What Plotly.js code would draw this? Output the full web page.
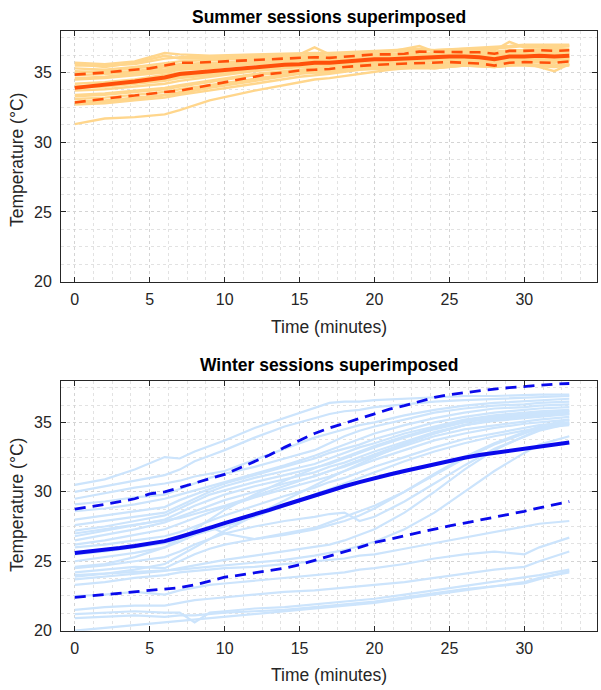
<!DOCTYPE html>
<html>
<head>
<meta charset="utf-8">
<script src="https://cdn.plot.ly/plotly-3.0.1.min.js"></script>
<style>html,body{margin:0;padding:0;background:#fff}#chart{width:601px;height:690px}</style>
</head>
<body>
<div id="chart"></div>
<script>
// ---------- DATA ----------
const minutes = [0,1,2,3,4,5,6,7,8,9,10,11,12,13,14,15,16,17,18,19,20,21,22,23,24,25,26,27,28,29,30,31,32,33];

// Summer sessions (sampled times)
const summerTimes = [0,2,4,6,7,9,12,15,16,17,19,21,23,24,26,28,29,30,32,33];
const summer1  = [35.7,35.6,35.8,36.4,36.3,36.2,36.3,36.4,36.4,36.4,36.5,36.6,36.7,36.6,36.7,36.8,36.9,37.0,37.0,37.0];
const summer2  = [35.5,35.5,35.6,36.0,36.1,36.1,36.2,36.3,36.8,36.3,36.4,36.5,36.9,36.5,36.6,36.6,37.2,36.8,36.8,36.9];
const summer3  = [35.3,35.2,35.4,35.7,35.8,35.9,36.0,36.1,36.2,36.1,36.3,36.3,36.4,36.4,36.5,36.5,36.6,36.6,36.7,36.7];
const summer4  = [35.0,35.1,35.3,35.5,35.6,35.7,35.8,35.9,36.0,35.9,36.1,36.2,36.3,36.3,36.4,36.3,36.4,36.5,36.5,36.5];
const summer5  = [34.8,34.9,35.0,35.2,35.4,35.5,35.7,35.8,35.9,35.8,36.0,36.1,36.2,36.2,36.3,36.2,36.3,36.4,36.4,36.4];
const summer6  = [34.5,34.6,34.8,35.0,35.2,35.3,35.6,35.7,35.8,35.6,35.9,36.0,36.1,36.1,36.2,36.1,36.2,36.3,36.3,36.3];
const summer7  = [34.2,34.3,34.5,34.8,35.0,35.1,35.4,35.6,35.6,35.5,35.8,35.9,36.0,36.0,36.1,36.0,36.1,36.2,36.1,36.2];
const summer8  = [34.0,34.1,34.3,34.5,34.7,34.9,35.3,35.5,35.5,35.0,35.7,35.8,35.9,35.9,36.0,35.9,36.0,36.1,36.0,36.1];
const summer9  = [33.7,33.8,34.0,34.2,34.4,34.7,35.1,35.4,35.4,35.3,35.6,35.7,35.8,35.8,35.9,35.8,35.9,36.0,35.9,36.0];
const summer10 = [33.4,33.5,33.7,33.9,34.1,34.4,34.9,35.2,35.3,35.3,35.5,35.6,35.7,35.6,35.8,35.7,35.8,35.9,35.8,35.9];
const summer11 = [33.1,33.2,33.4,33.6,33.8,34.1,34.6,35.0,35.1,35.1,35.4,35.5,35.6,35.5,35.7,35.6,35.7,35.8,35.7,35.8];
const summer12 = [32.8,32.9,33.1,33.4,33.5,33.9,34.4,34.9,35.0,35.0,35.3,35.4,35.5,35.4,35.6,35.5,35.6,35.7,35.1,35.6];
const summer13 = [32.7,32.8,33.0,33.2,33.4,33.7,34.2,34.7,34.8,34.9,35.2,35.3,35.3,35.3,35.5,35.4,35.5,35.5,35.4,35.5];
const summer14 = [31.3,31.7,31.8,32.0,32.3,33.0,33.7,34.3,34.5,34.6,34.9,35.2,35.4,35.3,35.5,35.4,35.5,35.6,35.5,35.6];
const summer15 = [35.6,35.4,35.7,36.2,36.0,36.0,36.1,36.2,36.3,36.2,36.4,36.5,36.6,36.6,36.7,36.7,36.8,36.9,36.9,36.9];
const summer16 = [35.1,35.0,35.1,35.4,35.5,35.6,35.9,36.0,36.1,36.0,36.2,36.3,36.4,36.4,36.5,36.4,36.5,36.6,36.6,36.6];
const summer17 = [34.6,34.7,34.9,35.1,35.3,35.4,35.7,35.9,35.9,35.7,36.0,36.1,36.2,36.2,36.3,36.2,36.3,36.4,36.3,36.4];
const summer18 = [33.9,34.0,34.2,34.4,34.6,34.8,35.2,35.5,35.6,35.4,35.7,35.8,35.9,35.9,36.0,35.9,36.0,36.1,36.0,36.1];
const summer19 = [33.3,33.4,33.6,33.8,34.0,34.3,34.8,35.1,35.2,35.2,35.5,35.6,35.7,35.6,35.8,35.7,35.8,35.9,35.8,35.9];
const summer20 = [32.9,33.0,33.2,33.4,33.6,34.0,34.5,35.0,35.0,35.0,35.3,35.4,35.5,35.5,35.6,35.5,35.6,35.6,35.5,35.6];
const summerSessions = [summer1,summer2,summer3,summer4,summer5,summer6,summer7,summer8,summer9,summer10,summer11,summer12,summer13,summer14,summer15,summer16,summer17,summer18,summer19,summer20];

const summerMean  = [33.9,34.0,34.1,34.25,34.35,34.5,34.65,34.9,35.0,35.1,35.2,35.3,35.4,35.5,35.55,35.6,35.7,35.7,35.8,35.9,35.95,35.95,36.0,36.1,36.1,36.15,36.15,36.1,35.95,36.15,36.15,36.2,36.15,36.2];
const summerUpper = [34.85,34.9,35.0,35.1,35.2,35.3,35.5,35.7,35.7,35.75,35.8,35.85,35.9,35.95,36.0,36.0,36.1,36.05,36.15,36.25,36.3,36.3,36.35,36.5,36.5,36.5,36.5,36.45,36.35,36.55,36.55,36.6,36.55,36.6];
const summerLower = [32.85,33.0,33.1,33.25,33.35,33.5,33.6,33.7,33.9,34.1,34.3,34.5,34.7,34.9,35.0,35.15,35.2,35.25,35.4,35.5,35.55,35.6,35.65,35.7,35.7,35.75,35.7,35.65,35.5,35.7,35.75,35.75,35.7,35.8];

// Winter sessions (sampled times)
const winterTimes = [0,2,4,6,7,8,9,10,12,14,16,17,18,19,20,22,24,26,28,30,31,33];
const winter1  = [30.5,30.9,31.6,32.5,32.4,32.9,33.3,33.7,34.6,35.3,36.0,36.4,36.5,36.5,36.6,36.7,36.8,36.9,36.9,37.0,37.0,37.0];
const winter2  = [30.0,30.4,30.8,31.2,31.6,32.2,32.6,33.0,33.9,34.7,35.3,35.6,35.8,35.9,36.1,36.3,36.5,36.6,36.7,36.8,36.8,36.9];
const winter3  = [29.5,29.9,30.3,30.6,30.8,31.1,31.3,31.5,32.3,33.1,33.9,34.2,34.5,34.8,35.0,35.5,35.9,36.2,36.4,36.5,36.6,36.7];
const winter4  = [29.1,29.3,29.6,29.8,30.2,30.6,31.0,31.3,31.8,32.4,33.0,33.5,34.0,34.4,34.7,35.2,35.7,36.0,36.2,36.3,36.4,36.5];
const winter5  = [28.6,28.8,29.1,29.5,29.8,30.1,30.4,30.7,31.3,31.9,32.6,33.0,33.4,33.8,34.2,34.8,35.3,35.7,36.0,36.1,36.2,36.3];
const winter6  = [28.0,28.3,28.6,28.9,29.4,29.8,30.2,30.6,31.2,31.8,32.4,32.8,33.1,33.4,33.8,34.4,35.0,35.4,35.7,35.9,36.0,36.1];
const winter7  = [27.6,27.9,28.2,28.5,29.0,29.5,30.0,30.4,31.0,31.5,32.0,32.4,32.8,33.2,33.5,34.2,34.7,35.2,35.5,35.7,35.8,35.9];
const winter8  = [27.2,27.5,27.9,28.3,28.8,29.3,29.8,30.1,30.7,31.2,31.7,32.0,32.4,32.8,33.2,33.9,34.5,35.0,35.3,35.5,35.6,35.7];
const winter9  = [26.8,27.2,27.6,28.0,28.5,29.0,29.4,29.8,30.4,30.9,31.4,31.8,32.1,32.5,32.9,33.6,34.3,34.8,35.1,35.3,35.4,35.6];
const winter10 = [26.5,26.9,27.3,27.8,28.2,28.6,29.0,29.4,30.0,30.6,31.1,31.5,31.8,32.2,32.6,33.3,34.0,34.5,34.8,35.1,35.2,35.4];
const winter11 = [26.2,26.5,26.9,27.3,27.7,28.1,28.5,28.9,29.6,30.2,30.8,31.1,31.5,31.9,32.3,33.0,33.7,34.2,34.6,34.9,35.0,35.2];
const winter12 = [26.0,26.2,26.5,26.8,27.1,27.5,27.9,28.3,29.0,29.7,30.3,30.7,31.0,31.4,31.8,32.5,33.2,33.8,34.2,34.6,34.8,35.0];
const winter13 = [25.5,25.7,26.0,26.3,26.6,26.9,27.2,27.5,28.2,29.0,29.8,30.2,30.6,31.0,31.4,32.2,32.9,33.5,34.0,34.4,34.6,34.8];
const winter14 = [25.0,25.3,25.6,26.0,26.4,26.9,27.5,27.0,26.6,26.9,27.3,27.6,27.9,28.3,28.8,30.0,31.3,32.5,33.5,34.3,34.7,35.2];
const winter15 = [24.5,24.7,25.0,25.3,25.7,26.2,26.6,27.0,27.5,27.9,28.2,28.4,28.5,27.9,28.2,29.3,30.6,31.9,33.1,34.0,34.4,34.9];
const winter16 = [24.2,24.4,24.6,24.5,25.0,25.5,25.9,26.2,26.6,27.0,27.4,27.8,28.2,28.6,29.0,30.0,31.2,32.4,33.4,34.2,34.6,35.0];
const winter17 = [23.7,23.9,24.1,24.3,24.5,24.7,24.9,25.1,25.4,25.7,26.0,26.2,26.5,26.9,27.3,28.5,30.0,31.6,33.0,34.0,34.5,34.9];
const winter18 = [24.0,24.1,24.2,24.3,24.4,24.5,24.6,24.7,24.9,25.1,25.4,25.6,25.8,26.1,26.4,27.3,28.5,30.0,31.5,32.8,33.4,34.0];
const winter19 = [23.3,23.5,23.8,24.0,24.2,24.3,24.4,24.5,24.6,24.8,25.0,25.1,25.2,25.4,25.5,25.9,26.3,26.7,27.1,27.5,27.7,27.9];
const winter20 = [22.5,22.6,22.8,22.6,22.9,23.1,23.3,23.4,23.6,23.8,24.0,24.1,24.2,24.4,24.5,24.8,25.2,25.5,25.7,25.5,26.0,26.7];
const winter21 = [21.5,21.7,21.8,21.8,22.0,22.2,22.3,22.4,22.6,22.8,22.9,23.0,23.1,23.2,23.3,23.5,23.8,24.1,24.4,24.6,25.0,25.7];
const winter22 = [21.2,21.3,21.4,21.3,21.3,20.6,21.3,21.4,21.6,21.7,21.9,22.0,22.1,22.2,22.3,22.6,22.9,23.2,23.5,23.8,24.0,24.4];
const winter23 = [20.9,21.0,21.1,21.0,21.1,21.1,21.2,21.3,21.4,21.5,21.7,21.8,21.9,22.0,22.1,22.4,22.7,23.0,23.2,23.4,23.7,24.3];
const winter24 = [20.0,20.2,20.4,20.6,20.7,20.8,20.9,21.0,21.2,21.4,21.6,21.7,21.8,21.9,22.0,22.3,22.6,22.9,23.2,23.5,23.8,24.2];
const winter25 = [24.6,24.8,25.3,26.0,26.6,27.3,28.0,28.7,29.8,30.8,31.7,32.1,32.5,32.9,33.3,34.0,34.6,35.1,35.4,35.6,35.7,35.8];
const winter26 = [23.9,24.1,24.4,24.8,25.4,26.0,26.6,27.2,28.3,29.4,30.5,31.0,31.5,32.0,32.5,33.4,34.2,34.8,35.2,35.4,35.5,35.6];
const winter27 = [27.0,27.3,27.6,27.9,28.1,28.4,28.7,29.0,29.7,30.4,31.1,31.5,31.9,32.3,32.7,33.5,34.2,34.8,35.2,35.5,35.6,35.8];
const winterSessions = [winter1,winter2,winter3,winter4,winter5,winter6,winter7,winter8,winter9,winter10,winter11,winter12,winter13,winter14,winter15,winter16,winter17,winter18,winter19,winter20,winter21,winter22,winter23,winter24,winter25,winter26,winter27];

const winterMean  = [25.6,25.7,25.8,25.95,26.1,26.3,26.45,26.75,27.05,27.4,27.75,28.05,28.35,28.7,29.05,29.4,29.75,30.1,30.4,30.7,31.0,31.25,31.5,31.75,32.0,32.25,32.45,32.65,32.8,33.0,33.15,33.3,33.45,33.55];
const winterUpper = [28.75,28.9,29.1,29.3,29.5,29.85,30.0,30.3,30.65,30.95,31.25,31.7,32.15,32.65,33.2,33.7,34.2,34.6,34.95,35.3,35.6,35.95,36.2,36.5,36.8,37.0,37.15,37.3,37.4,37.5,37.6,37.7,37.75,37.8];
const winterLower = [22.4,22.5,22.6,22.7,22.8,22.85,22.95,23.1,23.3,23.6,23.85,24.0,24.15,24.3,24.5,24.75,25.05,25.4,25.7,26.0,26.35,26.6,26.8,27.05,27.3,27.55,27.75,27.95,28.2,28.4,28.6,28.85,29.05,29.3];

const yTicks = [20,25,30,35];
const xTicks = [0,5,10,15,20,25,30,35];

// ---------- TRACES ----------
const traces = [];
function line(x, y, color, width, dash, xa, ya) {
  traces.push({x: x, y: y, type: 'scatter', mode: 'lines', xaxis: xa, yaxis: ya,
    line: {color: color, width: width, dash: dash || 'solid'}, hoverinfo: 'skip', showlegend: false});
}
summerSessions.forEach(s => line(summerTimes, s, 'rgb(255,214,140)', 2.4, null, 'x', 'y'));
line(minutes, summerUpper, 'rgb(255,80,10)', 2.6, '11px,7px', 'x', 'y');
line(minutes, summerLower, 'rgb(255,80,10)', 2.6, '11px,7px', 'x', 'y');
line(minutes, summerMean, 'rgb(255,80,10)', 4, null, 'x', 'y');

winterSessions.forEach(s => line(winterTimes, s, 'rgb(204,228,252)', 2.2, null, 'x2', 'y2'));
line(minutes, winterUpper, 'rgb(10,10,235)', 2.8, '11px,7px', 'x2', 'y2');
line(minutes, winterLower, 'rgb(10,10,235)', 2.8, '11px,7px', 'x2', 'y2');
line(minutes, winterMean, 'rgb(10,10,235)', 4, null, 'x2', 'y2');

// ---------- LAYOUT ----------
const axisFont = {family: 'Liberation Sans, Arial, sans-serif', size: 16, color: '#262626'};
function xAxis(anchor) {
  return {anchor: anchor, domain: [0, 1], range: [-0.92, 34.85], tickvals: xTicks, ticktext: xTicks.map(String),
    ticks: 'inside', ticklen: 5, tickcolor: '#262626', tickwidth: 1,
    showline: true, linecolor: '#262626', linewidth: 1, mirror: 'ticks',
    showgrid: true, gridcolor: '#d4d4d4', griddash: 'dot', gridwidth: 1, zeroline: false,
    minor: {dtick: 1.25, tick0: 0, showgrid: true, gridcolor: '#e2e2e2', griddash: 'dot', gridwidth: 1},
    tickfont: axisFont, ticklabelstandoff: 3, fixedrange: true};
}
function yAxis(anchor, domain) {
  return {anchor: anchor, domain: domain, range: [20, 38], tickvals: yTicks, ticktext: yTicks.map(String),
    ticks: 'inside', ticklen: 5, tickcolor: '#262626', tickwidth: 1,
    showline: true, linecolor: '#262626', linewidth: 1, mirror: 'ticks',
    showgrid: true, gridcolor: '#d4d4d4', griddash: 'dot', gridwidth: 1, zeroline: false,
    minor: {dtick: 1.25, tick0: 20, showgrid: true, gridcolor: '#e2e2e2', griddash: 'dot', gridwidth: 1},
    tickfont: axisFont, ticklabelstandoff: 5, fixedrange: true};
}
const H = 690;
const titleFont = {family: 'Liberation Sans, Arial, sans-serif', size: 17.5, color: '#000'};
const labFont = {family: 'Liberation Sans, Arial, sans-serif', size: 17.5, color: '#262626'};
const layout = {
  width: 601, height: 690, paper_bgcolor: '#fff', plot_bgcolor: '#fff',
  margin: {l: 61, r: 4, t: 0, b: 0},
  showlegend: false,
  xaxis: xAxis('y'),
  yaxis: yAxis('x', [1 - 281.7 / H, 1 - 30.7 / H]),
  xaxis2: xAxis('y2'),
  yaxis2: yAxis('x2', [1 - 630.7 / H, 1 - 380.7 / H]),
  annotations: [
    {text: '<b>Summer sessions superimposed</b>', xref: 'paper', yref: 'paper', x: 0.5, y: 1 - 17 / H, xanchor: 'center', yanchor: 'middle', showarrow: false, font: titleFont},
    {text: '<b>Winter sessions superimposed</b>', xref: 'paper', yref: 'paper', x: 0.5, y: 1 - 365 / H, xanchor: 'center', yanchor: 'middle', showarrow: false, font: titleFont},
    {text: 'Time (minutes)', xref: 'paper', yref: 'paper', x: 0.5, y: 1 - 327 / H, xanchor: 'center', yanchor: 'middle', showarrow: false, font: labFont},
    {text: 'Time (minutes)', xref: 'paper', yref: 'paper', x: 0.5, y: 1 - 675 / H, xanchor: 'center', yanchor: 'middle', showarrow: false, font: labFont},
    {text: 'Temperature (°C)', xref: 'paper', yref: 'paper', x: (17 - 61) / 536, y: 1 - 160 / H, xanchor: 'center', yanchor: 'middle', textangle: -90, showarrow: false, font: labFont},
    {text: 'Temperature (°C)', xref: 'paper', yref: 'paper', x: (17 - 61) / 536, y: 1 - 505 / H, xanchor: 'center', yanchor: 'middle', textangle: -90, showarrow: false, font: labFont}
  ]
};
Plotly.newPlot('chart', traces, layout, {displayModeBar: false, staticPlot: true});
</script>
</body>
</html>
